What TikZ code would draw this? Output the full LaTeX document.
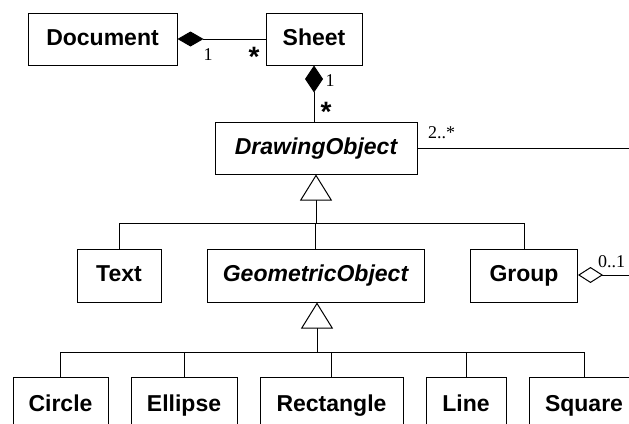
\documentclass[tikz,border=0pt]{standalone}
\usepackage{fontspec}
\setmainfont{Liberation Serif}
\setsansfont{Liberation Sans}
\usetikzlibrary{arrows.meta}

\tikzset{
  cls/.style={draw, line width=1pt, inner sep=0pt, minimum height=52pt,
    text height=15.5pt, text depth=3pt,
    font=\sffamily\bfseries\fontsize{23}{23}\selectfont},
  abstractcls/.style={cls, font=\sffamily\bfseries\itshape\fontsize{23}{23}\selectfont},
  conn/.style={line width=1pt},
  compose/.style={conn, {Diamond[fill=black,length=26pt,width=15pt]}-},
  composev/.style={conn, {Diamond[fill=black,length=27pt,width=18pt]}-},
  aggregate/.style={conn, {Diamond[open,fill=white,length=25pt,width=16pt]}-},
  inherit/.style={conn, {Triangle[open,fill=white,length=26pt,width=32pt]}-},
  mult/.style={font=\fontsize{18}{18}\selectfont, inner sep=0pt},
  star/.style={font=\sffamily\bfseries\fontsize{28}{28}\selectfont, inner sep=0pt},
}

\begin{document}
\begin{tikzpicture}[x=1pt, y=-1pt]
  \useasboundingbox (0,0) rectangle (629,423);
  \clip (0,0) rectangle (629,423);

  % top row
  \node[cls, minimum width=149pt] (doc) at (102.5,39) {Document};
  \node[cls, minimum width=96pt] (sheet) at (314,39) {Sheet};
  \node[abstractcls, minimum width=202pt] (drawobj) at (316,148) {DrawingObject};

  % middle row
  \node[cls, minimum width=84pt, minimum height=53pt] (text) at (119,275.5) {Text};
  \node[abstractcls, minimum width=217pt, minimum height=53pt] (geo) at (315.5,275.5) {GeometricObject};
  \node[cls, minimum width=107pt, minimum height=53pt] (group) at (524,275.5) {Group};

  % bottom row (runs off the lower edge)
  \node[cls, minimum width=95pt, minimum height=80pt] (circle) at (60.5,417) {\raisebox{12pt}{Circle}};
  \node[cls, minimum width=106pt, minimum height=80pt] (ellipse) at (184,417) {\raisebox{12pt}{Ellipse}};
  \node[cls, minimum width=143pt, minimum height=80pt] (rect) at (331.5,417) {\raisebox{12pt}{Rectangle}};
  \node[cls, minimum width=80pt, minimum height=80pt] (line) at (466,417) {\raisebox{12pt}{Line}};
  \node[cls, minimum width=110pt, minimum height=80pt] (square) at (584,417) {\raisebox{12pt}{Square}};

  % composition: Document - Sheet
  \draw[compose] (doc.east) -- (sheet.west);
  \node[mult] (m1) at (208,55) {1};
  \node[star] (m2) at (254,57) {*};

  % composition: Sheet - DrawingObject
  \draw[composev] (sheet.south) -- (sheet.south |- drawobj.north);
  \node[mult] (m3) at (330,81) {1};
  \node[star] (m4) at (326,112) {*};

  % association leaving to the right
  \coordinate (assocend) at (629,148);
  \draw[conn] (drawobj.east) -- (assocend);
  \node[mult, anchor=base west] (m5) at (428,138) {2..*};

  % aggregation from Group
  \coordinate (aggend) at (629,275);
  \draw[aggregate] (group.east |- aggend) -- (aggend);
  \node[mult, anchor=base west] (m6) at (598,267) {0..1};

  % generalization to DrawingObject
  \coordinate (bar1) at (316,223);
  \draw[inherit] (drawobj.south) -- (bar1);
  \draw[conn] (text.north) -- (text.north |- bar1) -- (group.north |- bar1) -- (group.north);
  \draw[conn] (geo.north) -- (geo.north |- bar1);

  % generalization to GeometricObject
  \coordinate (bar2) at (317,352);
  \draw[inherit] (geo.south -| bar2) -- (bar2);
  \draw[conn] (circle.north) -- (circle.north |- bar2) -- (square.north |- bar2) -- (square.north);
  \draw[conn] (ellipse.north) -- (ellipse.north |- bar2);
  \draw[conn] (rect.north) -- (rect.north |- bar2);
  \draw[conn] (line.north) -- (line.north |- bar2);
\end{tikzpicture}
\end{document}
